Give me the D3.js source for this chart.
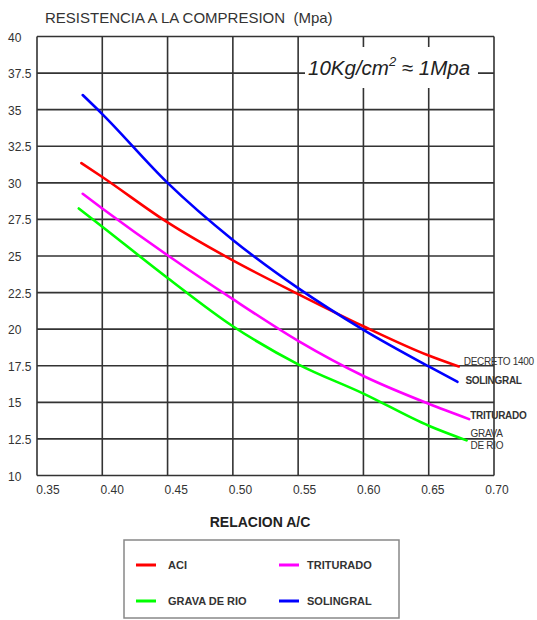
<!DOCTYPE html>
<html>
<head>
<meta charset="utf-8">
<script src="https://cdn.jsdelivr.net/npm/d3@7"></script>
<style>
  html, body { margin: 0; padding: 0; background: #fff; }
  svg { display: block; font-family: "Liberation Sans", Arial, sans-serif; }
</style>
</head>
<body>
<svg id="chart" width="537" height="620"></svg>
<script>
// ---- data ----
const xTicks = [0.35, 0.40, 0.45, 0.50, 0.55, 0.60, 0.65, 0.70];
const xTickLabels = ["0.35", "0.40", "0.45", "0.50", "0.55", "0.60", "0.65", "0.70"];
const yTicks = [10, 12.5, 15, 17.5, 20, 22.5, 25, 27.5, 30, 32.5, 35, 37.5, 40];
const yTickLabels = ["10", "12.5", "15", "17.5", "20", "22.5", "25", "27.5", "30", "32.5", "35", "37.5", "40"];

const seriesNames = ["ACI", "TRITURADO", "GRAVA DE RIO", "SOLINGRAL"];
const seriesColors = ["#ff0000", "#ff00ff", "#00ff00", "#0000ff"];

const aciX = [0.384, 0.40, 0.45, 0.50, 0.55, 0.60, 0.65, 0.673];
const aciY = [31.35, 30.4, 27.3, 24.7, 22.4, 20.2, 18.2, 17.45];

const trituradoX = [0.385, 0.40, 0.45, 0.50, 0.55, 0.60, 0.65, 0.681];
const trituradoY = [29.25, 28.25, 25.05, 22.05, 19.2, 16.8, 14.9, 13.85];

const gravaX = [0.382, 0.40, 0.45, 0.50, 0.55, 0.60, 0.65, 0.679];
const gravaY = [28.25, 27.0, 23.5, 20.2, 17.6, 15.6, 13.4, 12.4];

const solingralX = [0.385, 0.40, 0.45, 0.50, 0.55, 0.60, 0.65, 0.672];
const solingralY = [36.0, 34.7, 30.0, 26.1, 22.8, 19.95, 17.45, 16.4];

const endLabels = [["DECRETO 1400"], ["TRITURADO"], ["GRAVA", "DE RIO"], ["SOLINGRAL"]];
const endLabelBold = [false, true, false, true];

const titleText = "RESISTENCIA A LA COMPRESION  (Mpa)";
const xAxisTitle = "RELACION A/C";

// ---- layout ----
const svg = d3.select("#chart");
const plotL = 37, plotR = 494, plotT = 36.5, plotB = 475.5;

const x = d3.scaleLinear().domain([0.35, 0.70]).range([plotL, plotR]);
const y = d3.scaleLinear().domain([10, 40]).range([plotB, plotT]);
const xLab = d3.scaleLinear().domain([0.35, 0.70]).range([48, 497]);

const gridColor = "#333";

// grid
const g = svg.append("g");
g.selectAll("line.v").data(xTicks).join("line")
  .attr("x1", d => x(d)).attr("x2", d => x(d))
  .attr("y1", plotT).attr("y2", plotB)
  .attr("stroke", gridColor).attr("stroke-width", 1.6);
g.selectAll("line.h").data(yTicks).join("line")
  .attr("x1", plotL).attr("x2", plotR)
  .attr("y1", d => y(d)).attr("y2", d => y(d))
  .attr("stroke", gridColor).attr("stroke-width", 1.6);

// annotation background
svg.append("rect").attr("x", 305).attr("y", 47).attr("width", 173).attr("height", 41).attr("fill", "#fff");
const ann = svg.append("text").attr("x", 308).attr("y", 75)
  .attr("font-size", 20.5).attr("font-style", "italic").attr("fill", "#222");
ann.append("tspan").text("10Kg/cm");
ann.append("tspan").attr("font-size", 13).attr("dy", -9).text("2");
ann.append("tspan").attr("dy", 9).text(" \u2248 1Mpa");

// y tick labels
svg.selectAll("text.ytl").data(yTicks).join("text")
  .attr("x", 8).attr("y", d => y(d) + 5)
  .attr("font-size", 12).attr("fill", "#333")
  .text((d, i) => yTickLabels[i]);

// x tick labels
svg.selectAll("text.xtl").data(xTicks).join("text")
  .attr("x", d => xLab(d)).attr("y", 494)
  .attr("text-anchor", "middle")
  .attr("font-size", 12).attr("fill", "#333")
  .text((d, i) => xTickLabels[i]);

// titles
svg.append("text").attr("x", 45).attr("y", 23).attr("font-size", 15).attr("fill", "#333").style("white-space", "pre").text(titleText);
svg.append("text").attr("x", 260).attr("y", 527).attr("text-anchor", "middle")
  .attr("font-size", 14).attr("font-weight", "bold").attr("fill", "#222").text(xAxisTitle);

// series
const allX = [aciX, trituradoX, gravaX, solingralX];
const allY = [aciY, trituradoY, gravaY, solingralY];
const series = seriesNames.map((name, i) => ({
  name, color: seriesColors[i],
  pts: allX[i].map((v, j) => [v, allY[i][j]]),
  label: endLabels[i], bold: endLabelBold[i]
}));

const line = d3.line().x(d => x(d[0])).y(d => y(d[1])).curve(d3.curveMonotoneX);
svg.append("g").selectAll("path").data(series).join("path")
  .attr("d", d => line(d.pts))
  .attr("fill", "none").attr("stroke", d => d.color).attr("stroke-width", 2.6)
  .attr("stroke-linecap", "round");

// end labels
const labelOffsets = [[5, -1], [1, 0], [4, -3], [8, 2]];
series.forEach((s, i) => {
  const last = s.pts[s.pts.length - 1];
  const t = svg.append("text")
    .attr("x", x(last[0]) + labelOffsets[i][0])
    .attr("y", y(last[1]) + labelOffsets[i][1])
    .attr("font-size", 10).attr("fill", "#333")
    .attr("font-weight", s.bold ? "bold" : "normal")
    .attr("letter-spacing", -0.3);
  s.label.forEach((ln, k) => {
    t.append("tspan").attr("x", x(last[0]) + labelOffsets[i][0]).attr("dy", k === 0 ? 0 : 12).text(ln);
  });
});

// legend
svg.append("rect").attr("x", 124).attr("y", 540).attr("width", 275).attr("height", 78)
  .attr("fill", "#fff").attr("stroke", "#888").attr("stroke-width", 1.5);
const legendOrder = [0, 1, 2, 3];
const colX = [136, 279], rowY = [565, 601];
legendOrder.forEach((si, k) => {
  const cx = colX[k % 2], cy = rowY[Math.floor(k / 2)];
  svg.append("line").attr("x1", cx).attr("x2", cx + 20).attr("y1", cy).attr("y2", cy)
    .attr("stroke", seriesColors[si]).attr("stroke-width", 3);
  svg.append("text").attr("x", cx + (k % 2 ? 28 : 32)).attr("y", cy + 4)
    .attr("font-size", 11).attr("font-weight", "bold").attr("fill", "#333")
    .text(seriesNames[si]);
});
</script>
</body>
</html>
